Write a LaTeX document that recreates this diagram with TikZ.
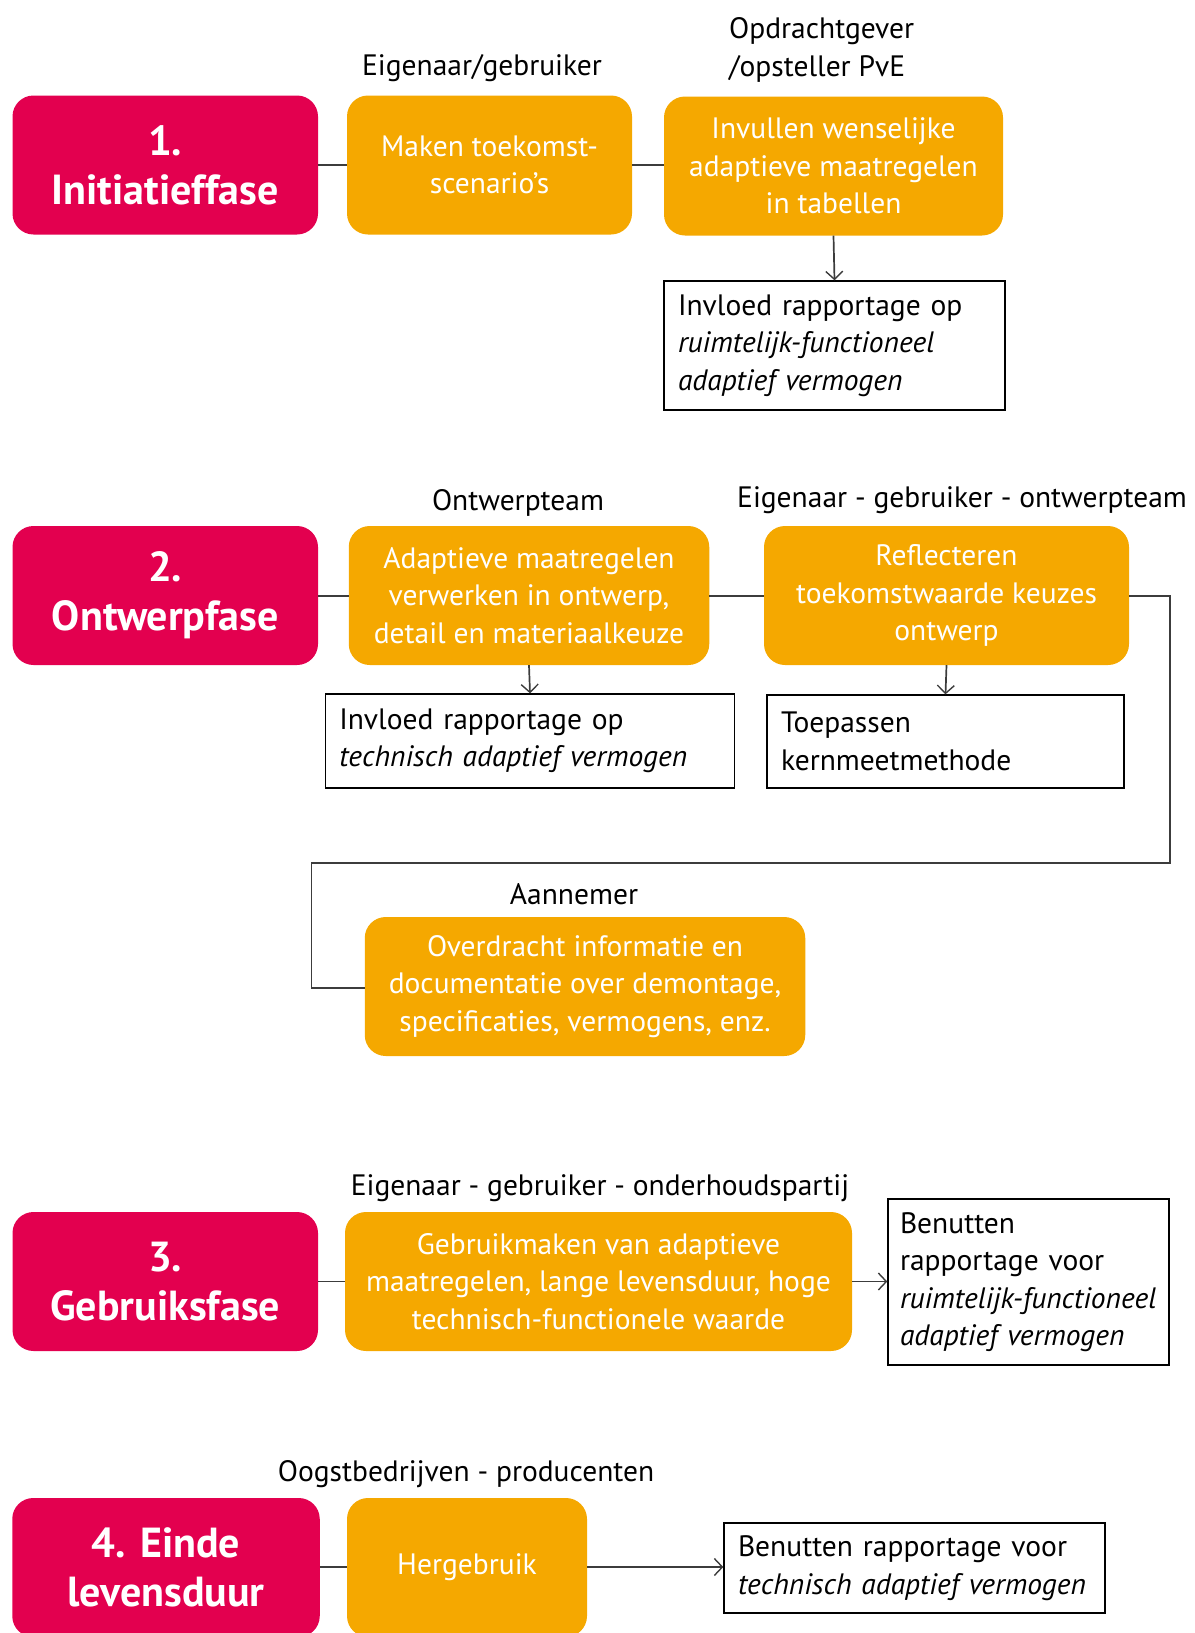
\documentclass[tikz,border=0pt]{standalone}
\usepackage{fontspec}
\setmainfont{PT Sans}
\usetikzlibrary{arrows.meta}
\definecolor{phasered}{RGB}{227,0,79}
\definecolor{taskorange}{RGB}{245,168,0}
\definecolor{linegray}{RGB}{60,60,60}
\newcommand\bodyfont{\fontsize{29.5}{37.5}\selectfont}
\newcommand\phasefont{\fontsize{42}{49}\selectfont\bfseries}
\tikzset{
  phase/.style={fill=phasered, rounded corners=21pt, text=white, font=\phasefont,
    align=center, minimum width=305.5pt, minimum height=139pt, inner sep=0pt},
  task/.style={fill=taskorange, rounded corners=21pt, text=white, font=\bodyfont,
    align=center, minimum height=139pt, inner sep=0pt},
  note/.style={draw=black, line width=1.4pt, fill=white, font=\bodyfont,
    align=left, inner xsep=14pt, inner ysep=0pt},
  role/.style={font=\bodyfont, text=black, inner sep=0pt},
  link/.style={draw=linegray, line width=1.7pt},
  flow/.style={link, -{Straight Barb[length=8pt,width=17pt,line width=1.4pt]}},
}
\begin{document}
\begin{tikzpicture}[x=1pt,y=-1pt]
\useasboundingbox (0,0) rectangle (1194,1633);
\clip (0,0) rectangle (1194,1633);

% ---- 1. Initiatieffase ----
\node[phase] (p1) at (165.25,165) {1.\\Initiatieffase};
\node[task, minimum width=285pt] (t1a) at (489.5,165) {Maken toekomst-\\scenario’s};
\node[task, minimum width=339pt] (t1b) at (833.5,166) {Invullen wenselijke\\adaptieve maatregelen\\in tabellen};
\node[note, text width=313pt, minimum height=129pt] (n1) at (834.5,345.5)
  {Invloed rapportage op\\\textit{ruimtelijk-functioneel}\\\textit{adaptief vermogen}};
\node[role] (r1a) at (482,68) {Eigenaar/gebruiker};
\node[role, align=left, anchor=west] (r1b) at (729,50) {Opdrachtgever\\/opsteller PvE};
\draw[link] (p1.east |- 0,165) -- (t1a.west |- 0,165);
\draw[link] (t1a.east |- 0,165) -- (t1b.west |- 0,165);
\draw[flow] (t1b.south) -- (n1.north);

% ---- 2. Ontwerpfase ----
\node[phase] (p2) at (165.25,595.5) {2.\\Ontwerpfase};
\node[task, minimum width=360.5pt] (t2a) at (529,595.5) {Adaptieve maatregelen\\verwerken in ontwerp,\\detail en materiaalkeuze};
\node[task, minimum width=365pt] (t2b) at (946.5,595.5) {Reflecteren\\toekomstwaarde keuzes\\ontwerp};
\node[note, text width=381.5pt, minimum height=94pt] (n2a) at (530,741)
  {Invloed rapportage op\\\textit{technisch adaptief vermogen}};
\node[note, text width=329pt, minimum height=93pt] (n2b) at (945.5,741.5)
  {Toepassen\\kernmeetmethode};
\node[role] (r2a) at (518,503) {Ontwerpteam};
\node[role] (r2b) at (962,500) {Eigenaar - gebruiker - ontwerpteam};
\node[task, minimum width=440.5pt] (t2c) at (585,986.5) {Overdracht informatie en\\documentatie over demontage,\\specificaties, vermogens, enz.};
\node[role] (r2c) at (574,894) {Aannemer};
\coordinate (k1) at (1170,596);
\coordinate (k2) at (1170,863);
\coordinate (k3) at (311.5,863);
\coordinate (k4) at (311.5,988);
\draw[link] (p2.east |- 0,596) -- (t2a.west |- 0,596);
\draw[link] (t2a.east |- 0,596) -- (t2b.west |- 0,596);
\draw[link] (t2b.east |- k1) -- (k1) -- (k2) -- (k3) -- (k4) -- (t2c.west |- k4);
\draw[flow] (t2a.south) -- (n2a.north);
\draw[flow] (t2b.south) -- (n2b.north);

% ---- 3. Gebruiksfase ----
\node[phase] (p3) at (165.25,1281.5) {3.\\Gebruiksfase};
\node[task, minimum width=507pt] (t3) at (598.5,1281.5) {Gebruikmaken van adaptieve\\maatregelen, lange levensduur, hoge\\technisch-functionele waarde};
\node[note, inner xsep=12pt, text width=257pt, minimum height=166pt] (n3) at (1028.5,1282)
  {Benutten\\rapportage voor\\\textit{ruimtelijk-functioneel}\\\textit{adaptief vermogen}};
\node[role] (r3) at (600,1188) {Eigenaar - gebruiker - onderhoudspartij};
\draw[link] (p3.east |- 0,1281.5) -- (t3.west |- 0,1281.5);
\draw[flow] (t3.east |- 0,1281.5) -- (n3.west |- 0,1281.5);

% ---- 4. Einde levensduur ----
\node[phase, minimum width=307.5pt] (p4) at (166,1567.5) {4. Einde\\levensduur};
\node[task, minimum width=240pt] (t4) at (467,1567.5) {Hergebruik};
\node[note, text width=353pt, minimum height=90pt] (n4) at (914.5,1568)
  {Benutten rapportage voor\\\textit{technisch adaptief vermogen}};
\node[role] (r4) at (466,1474) {Oogstbedrijven - producenten};
\draw[link] (p4.east |- 0,1567) -- (t4.west |- 0,1567);
\draw[flow] (t4.east |- 0,1567) -- (n4.west |- 0,1567);
\end{tikzpicture}
\end{document}
